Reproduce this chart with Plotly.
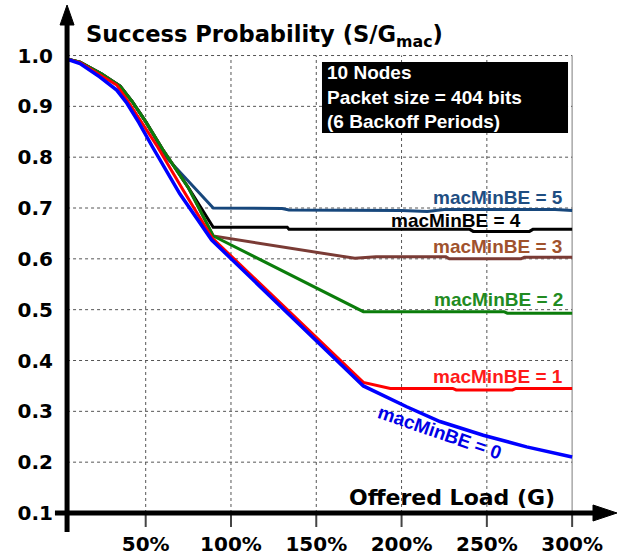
import plotly.graph_objects as go

# ---------------- data (offered load in %, success probability) ----------------
x_be5 = [3.7, 11.5, 24, 35, 42, 50, 62, 89.6, 130, 134, 200, 215, 225, 290, 300]
y_be5 = [0.993, 0.987, 0.964, 0.94, 0.91, 0.87, 0.80, 0.700, 0.699, 0.696, 0.695, 0.693, 0.697, 0.697, 0.695]

x_be4 = [3.7, 11.5, 24, 35, 42, 50, 60, 75, 89.6, 133, 134, 240, 242, 275, 277, 300]
y_be4 = [0.993, 0.987, 0.964, 0.94, 0.91, 0.87, 0.815, 0.74, 0.662, 0.662, 0.658, 0.658, 0.654, 0.654, 0.658, 0.658]

x_be3 = [3.7, 11.5, 24, 35, 42, 50, 60, 75, 89.6, 172.6, 185, 226, 228, 270, 272, 300]
y_be3 = [0.993, 0.987, 0.964, 0.94, 0.91, 0.87, 0.815, 0.74, 0.645, 0.601, 0.604, 0.604, 0.600, 0.600, 0.603, 0.603]

x_be2 = [3.7, 11.5, 24, 35, 42, 50, 60, 75, 89.6, 177.6, 260, 262, 300]
y_be2 = [0.993, 0.987, 0.964, 0.94, 0.91, 0.87, 0.815, 0.74, 0.645, 0.496, 0.496, 0.493, 0.493]

x_be1 = [3.7, 11.5, 23, 33, 40, 48, 57, 72, 89, 177.6, 193.4, 230, 232, 265, 267, 300]
y_be1 = [0.993, 0.986, 0.962, 0.942, 0.908, 0.867, 0.82, 0.735, 0.641, 0.357, 0.345, 0.345, 0.342, 0.342, 0.345, 0.345]

x_be0 = [3.7, 11.5, 23, 33, 39, 46, 54, 70, 88.7, 177.6, 203, 222.5, 247.9, 273.3, 300]
y_be0 = [0.993, 0.984, 0.958, 0.932, 0.906, 0.868, 0.82, 0.728, 0.637, 0.35, 0.309, 0.28, 0.253, 0.23, 0.21]

x_ticks = [50, 100, 150, 200, 250, 300]
x_tick_labels = ["50%", "100%", "150%", "200%", "250%", "300%"]
y_ticks = [0.1, 0.2, 0.3, 0.4, 0.5, 0.6, 0.7, 0.8, 0.9, 1.0]
y_tick_labels = ["0.1", "0.2", "0.3", "0.4", "0.5", "0.6", "0.7", "0.8", "0.9", "1.0"]

series = [
    ("macMinBE = 5", x_be5, y_be5, "#17477c", 3),
    ("macMinBE = 4", x_be4, y_be4, "#000000", 3),
    ("macMinBE = 3", x_be3, y_be3, "#7a3b35", 3),
    ("macMinBE = 2", x_be2, y_be2, "#0b7d0b", 3),
    ("macMinBE = 1", x_be1, y_be1, "#ff0000", 3),
    ("macMinBE = 0", x_be0, y_be0, "#0000ff", 3.5),
]

# label placement (data coords) and colours
labels = [
    ("macMinBE = 5", 256.8, 0.721, "#1f4e82", 0),
    ("macMinBE = 4", 231.8, 0.675, "#000000", 0),
    ("macMinBE = 3", 256.5, 0.625, "#a0522d", 0),
    ("macMinBE = 2", 257.1, 0.521, "#228b22", 0),
    ("macMinBE = 1", 256.8, 0.368, "#ff1a1a", 0),
    ("macMinBE = 0", 222.5, 0.258, "#0000e6", 19),
]

AXIS_X = 3.9
X_MIN, X_MAX = -6.1, 326.3
Y_MIN, Y_MAX = 0.0626, 1.0994

fig = go.Figure()
for name, xs, ys, col, w in series:
    fig.add_trace(go.Scatter(x=xs, y=ys, mode="lines", name=name,
                             line=dict(color=col, width=w), hoverinfo="skip"))

shapes = []
grid = dict(color="#555555", width=1, dash="dot")
for v in x_ticks:
    if v == x_ticks[-1]:
        shapes.append(dict(type="line", x0=v, x1=v, y0=y_ticks[0], y1=y_ticks[-1],
                           line=dict(color="#a8a8a8", width=1.5), layer="below"))
    else:
        shapes.append(dict(type="line", x0=v, x1=v, y0=y_ticks[0], y1=y_ticks[-1],
                           line=grid, layer="below"))
    # tick mark below x axis
    shapes.append(dict(type="line", xref="x", yref="y", x0=v, x1=v,
                       ysizemode="pixel", yanchor=y_ticks[0], y0=0, y1=-14,
                       line=dict(color="#444444", width=2), layer="above"))
for v in y_ticks[1:]:
    shapes.append(dict(type="line", x0=AXIS_X, x1=x_ticks[-1], y0=v, y1=v,
                       line=grid, layer="below"))

# axes lines
shapes.append(dict(type="line", x0=-3.2, x1=X_MAX - 8, y0=y_ticks[0], y1=y_ticks[0],
                   line=dict(color="black", width=5), layer="above"))
shapes.append(dict(type="line", x0=AXIS_X, x1=AXIS_X, y0=Y_MIN, y1=Y_MAX - 0.02,
                   line=dict(color="black", width=5), layer="above"))
# arrowheads
shapes.append(dict(type="path", xsizemode="pixel", ysizemode="pixel",
                   xanchor=X_MAX, yanchor=y_ticks[0],
                   path="M 0,0 L -24,8 L -24,-8 Z", fillcolor="black",
                   line=dict(color="black", width=1), layer="above"))
shapes.append(dict(type="path", xsizemode="pixel", ysizemode="pixel",
                   xanchor=AXIS_X, yanchor=Y_MAX,
                   path="M 0,0 L -7,-20 L 7,-20 Z", fillcolor="black",
                   line=dict(color="black", width=1), layer="above"))

# info box
shapes.append(dict(type="rect", xref="paper", yref="paper",
                   x0=0.4797, x1=0.9136, y0=0.7571, y1=0.8918,
                   fillcolor="black", line=dict(color="black", width=0), layer="above"))

annotations = []
for text, lx, ly, col, ang in labels:
    annotations.append(dict(x=lx, y=ly, text=text, showarrow=False, textangle=ang,
                            font=dict(family="Liberation Sans", size=19, color=col, weight="bold"),
                            xanchor="center", yanchor="middle"))

annotations.append(dict(xref="paper", yref="paper", x=0.4850, y=0.8245,
                        text="10 Nodes<br>Packet size = 404 bits<br>(6 Backoff Periods)",
                        showarrow=False, align="left", xanchor="left", yanchor="middle",
                        font=dict(family="Liberation Sans", size=19, color="white", weight="bold")))
annotations.append(dict(xref="paper", yref="paper", x=0.060, y=0.942,
                        text="Success Probability (S/G<sub>mac</sub>)",
                        showarrow=False, xanchor="left", yanchor="middle",
                        font=dict(family="DejaVu Sans", size=22.6, color="black", weight="bold")))
annotations.append(dict(xref="paper", yref="paper", x=0.8942, y=0.0664,
                        text="Offered Load (G)",
                        showarrow=False, xanchor="right", yanchor="middle",
                        font=dict(family="DejaVu Sans", size=22, color="black", weight="bold")))

fig.update_layout(
    width=621, height=558,
    margin=dict(l=50, r=4, t=5, b=26),
    paper_bgcolor="white", plot_bgcolor="white",
    showlegend=False,
    shapes=shapes, annotations=annotations,
    xaxis=dict(range=[X_MIN, X_MAX], showgrid=False, zeroline=False, showline=False,
               automargin=False, tickvals=x_ticks, ticktext=x_tick_labels, ticks="",
               ticklabelstandoff=-2,
               tickfont=dict(family="DejaVu Sans", size=20, color="black", weight="bold")),
    yaxis=dict(range=[Y_MIN, Y_MAX], showgrid=False, zeroline=False, showline=False,
               automargin=False, tickvals=y_ticks, ticktext=y_tick_labels, ticks="",
               ticklabelstandoff=-4,
               tickfont=dict(family="DejaVu Sans", size=20, color="black", weight="bold")),
)

fig.write_html("out.html", config={"displayModeBar": False},
               post_script="document.body.style.margin='0px';")
